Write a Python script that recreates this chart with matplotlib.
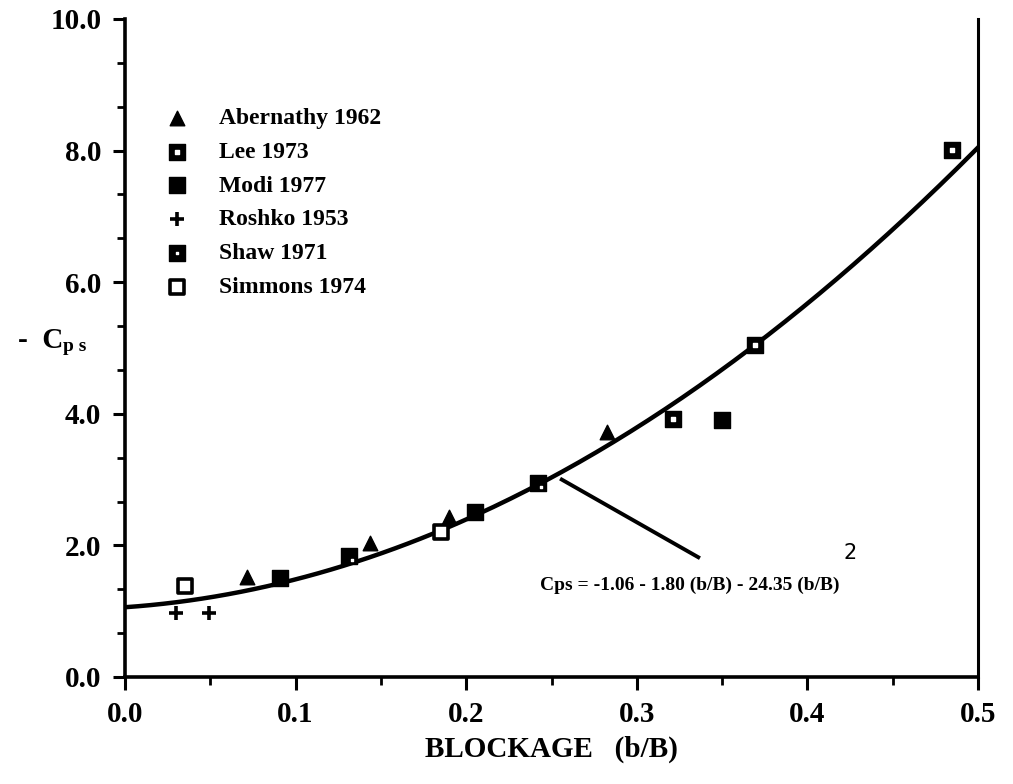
import numpy as np
import matplotlib
matplotlib.use("Agg")
import matplotlib.pyplot as plt
from matplotlib.ticker import MultipleLocator, FixedLocator

# data
aber_x = [0.0715, 0.1436, 0.190, 0.2825]
aber_y = [1.52, 2.04, 2.43, 3.72]
lee_x = [0.321, 0.369, 0.485]
lee_y = [3.92, 5.05, 8.01]
modi_x = [0.091, 0.205, 0.350]
modi_y = [1.50, 2.51, 3.90]
roshko_x = [0.030, 0.049]
roshko_y = [0.97, 0.97]
shaw_x = [0.131, 0.242]
shaw_y = [1.84, 2.95]
simm_x = [0.035, 0.185]
simm_y = [1.38, 2.20]

# fit: Cps = -1.06 - 1.80 (b/B) - 24.35 (b/B)^2, plotted as -Cps
fit_coef = [1.06, 1.80, 24.35]

serif = "Liberation Serif"

fig = plt.figure(figsize=(10.13, 7.84), dpi=100)
ax = fig.add_axes([0.1234, 0.1365, 0.8421, 0.8393])

xs = np.linspace(0, 0.5, 200)
ax.plot(xs, fit_coef[0] + fit_coef[1] * xs + fit_coef[2] * xs ** 2,
        color="black", lw=3.2, zorder=2)

h_aber = ax.scatter(aber_x, aber_y, marker="^", s=110, c="black", zorder=3)
h_lee = ax.scatter(lee_x, lee_y, marker="s", s=130, c="black", zorder=3)
h_lee_in = ax.scatter(lee_x, lee_y, marker="s", s=5, c="white", zorder=4)
h_modi = ax.scatter(modi_x, modi_y, marker="s", s=130, c="black", zorder=3)
h_rosh = ax.scatter(roshko_x, roshko_y, marker="+", s=110, c="black",
                    linewidths=2.6, zorder=3)
h_shaw = ax.scatter(shaw_x, shaw_y, marker="s", s=120, c="black", zorder=3)
h_shaw_in = ax.scatter([x + 0.002 for x in shaw_x], [y - 0.06 for y in shaw_y],
                       marker="s", s=4, c="white", zorder=4)
h_simm = ax.scatter(simm_x, simm_y, marker="s", s=100, facecolors="white",
                    edgecolors="black", linewidths=2.6, zorder=3)

leg = ax.legend([h_aber, (h_lee, h_lee_in), h_modi, h_rosh, (h_shaw, h_shaw_in), h_simm],
                ["Abernathy 1962", "Lee 1973", "Modi 1977", "Roshko 1953",
                 "Shaw 1971", "Simmons 1974"],
                loc="upper left", bbox_to_anchor=(0.033, 0.88), frameon=False,
                handletextpad=1.2, labelspacing=0.52, borderaxespad=0,
                handlelength=1.2,
                prop={"family": serif, "weight": "bold", "size": 17})

# annotation of the fit
ax.plot([0.256, 0.336], [3.0, 1.82], color="black", lw=2.8, zorder=2)
ax.text(0.243, 1.40, "Cps = -1.06 - 1.80 (b/B) - 24.35 (b/B)", family=serif,
        weight="bold", fontsize=14, va="center", ha="left")
ax.text(0.425, 1.88, "2", fontsize=15, va="center", ha="center")

ax.set_xlim(0, 0.5)
ax.set_ylim(0, 10)
ax.xaxis.set_major_locator(MultipleLocator(0.1))
ax.xaxis.set_minor_locator(MultipleLocator(0.05))
ax.yaxis.set_major_locator(MultipleLocator(2))
ax.yaxis.set_minor_locator(FixedLocator([k * 2 / 3 for k in range(16)]))
ax.xaxis.set_major_formatter(lambda v, p: f"{v:.1f}")
ax.yaxis.set_major_formatter(lambda v, p: f"{v:.1f}")

ax.spines["top"].set_visible(False)
for s in ["left", "bottom"]:
    ax.spines[s].set_linewidth(2.6)
ax.spines["right"].set_linewidth(2.2)
ax.tick_params(axis="both", which="major", direction="out", length=9, width=2.2,
               labelsize=21, pad=8)
ax.tick_params(axis="both", which="minor", direction="out", length=6, width=2.0)
for lab in ax.get_xticklabels() + ax.get_yticklabels():
    lab.set_family(serif)
    lab.set_fontweight("bold")

ax.set_xlabel("BLOCKAGE   (b/B)", family=serif, weight="bold", fontsize=21, labelpad=6)
fig.text(0.018, 0.566, "-  C", family=serif, weight="bold", fontsize=21,
         va="center", ha="left")
fig.text(0.062, 0.558, "p s", family=serif, weight="bold", fontsize=14,
         va="center", ha="left")

fig.savefig("out.png", dpi=100)
